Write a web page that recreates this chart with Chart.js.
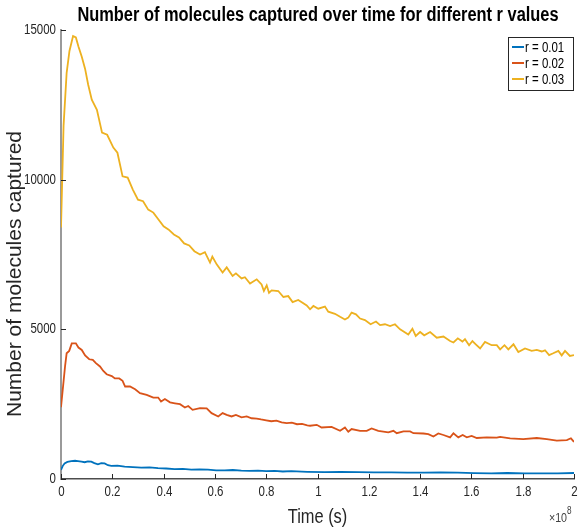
<!DOCTYPE html>
<html>
<head>
<meta charset="utf-8">
<script src="https://cdn.jsdelivr.net/npm/chart.js@4.4.1/dist/chart.umd.min.js"></script>
<style>
  body { margin: 0; background: #fff; }
</style>
</head>
<body>
<canvas id="grafica" width="579" height="531"></canvas>
<script>
// tiempo en unidades de 1e8 s
const timeR03 = [
  0, 0.01, 0.022, 0.033, 0.047, 0.058, 0.068, 0.081, 0.094, 0.106,
  0.12, 0.14, 0.16, 0.18, 0.204, 0.22, 0.24, 0.26, 0.28, 0.30,
  0.32, 0.34, 0.36, 0.38, 0.40, 0.42, 0.44, 0.46, 0.48, 0.50,
  0.52, 0.542, 0.561, 0.581, 0.59, 0.607, 0.63, 0.646, 0.669, 0.682,
  0.704, 0.717, 0.737, 0.763, 0.782, 0.791, 0.802, 0.811, 0.821, 0.847,
  0.867, 0.886, 0.903, 0.925, 0.958, 0.971, 0.984, 1.003, 1.029, 1.042,
  1.068, 1.088, 1.107, 1.12, 1.133, 1.15, 1.166, 1.185, 1.207, 1.228,
  1.244, 1.263, 1.283, 1.302, 1.322, 1.354, 1.37, 1.383, 1.4, 1.416,
  1.439, 1.465, 1.491, 1.517, 1.53, 1.547, 1.565, 1.575, 1.591, 1.604,
  1.617, 1.634, 1.653, 1.679, 1.699, 1.712, 1.729, 1.744, 1.764, 1.783,
  1.809, 1.835, 1.855, 1.874, 1.887, 1.903, 1.919, 1.939, 1.952, 1.965,
  1.984, 2.0
];
const capturedR03 = [
  8400, 11800, 13570, 14300, 14800, 14750, 14450, 14110, 13700, 13170,
  12670, 12330, 11570, 11500, 11070, 10900, 10110, 10070, 9670, 9330,
  9280, 9000, 8900, 8670, 8440, 8330, 8170, 8070, 7870, 7800,
  7610, 7500, 7580, 7230, 7430, 7170, 6900, 7070, 6780, 6870,
  6700, 6740, 6530, 6670, 6500, 6280, 6470, 6220, 6300, 6280,
  6080, 6110, 5910, 5980, 5800, 5670, 5780, 5690, 5760, 5590,
  5520, 5420, 5330, 5390, 5560, 5500, 5360, 5310, 5170, 5260,
  5140, 5170, 5110, 5170, 5000, 4830, 5020, 4780, 4910, 4800,
  4910, 4720, 4760, 4610, 4560, 4700, 4590, 4670, 4470, 4610,
  4500, 4360, 4580, 4470, 4470, 4330, 4470, 4330, 4500, 4240,
  4360, 4280, 4310, 4260, 4300, 4140, 4200, 4280, 4130, 4280,
  4110, 4140
];

const timeR02 = [
  0, 0.016, 0.022, 0.032, 0.042, 0.058, 0.068, 0.081, 0.094, 0.11,
  0.124, 0.136, 0.152, 0.165, 0.178, 0.198, 0.21, 0.227, 0.24, 0.25,
  0.269, 0.289, 0.308, 0.334, 0.36, 0.379, 0.39, 0.405, 0.425, 0.444,
  0.464, 0.483, 0.496, 0.513, 0.542, 0.568, 0.587, 0.613, 0.63, 0.646,
  0.665, 0.682, 0.704, 0.724, 0.743, 0.763, 0.78, 0.80, 0.82, 0.84,
  0.86, 0.88, 0.90, 0.92, 0.94, 0.96, 0.971, 0.997, 1.016, 1.055,
  1.088, 1.107, 1.12, 1.133, 1.166, 1.192, 1.211, 1.237, 1.276, 1.296,
  1.309, 1.335, 1.361, 1.374, 1.413, 1.432, 1.452, 1.471, 1.491, 1.517,
  1.53, 1.549, 1.566, 1.582, 1.601, 1.621, 1.66, 1.699, 1.712, 1.751,
  1.802, 1.855, 1.894, 1.933, 1.972, 1.988, 2.0
];
const capturedR02 = [
  2400, 3780, 4200, 4280, 4530, 4530, 4390, 4310, 4130, 4000,
  3980, 3870, 3760, 3610, 3500, 3440, 3360, 3360, 3280, 3090,
  3090, 3000, 2870, 2810, 2720, 2720, 2590, 2670, 2560, 2530,
  2500, 2390, 2440, 2310, 2370, 2360, 2200, 2090, 2200, 2140,
  2090, 2140, 2060, 2090, 2030, 2020, 1990, 1960, 1930, 1950,
  1890, 1870, 1880, 1830, 1840, 1790, 1780, 1810, 1720, 1740,
  1610, 1720, 1580, 1670, 1610, 1610, 1690, 1610, 1560, 1610,
  1530, 1590, 1590, 1530, 1520, 1500, 1420, 1520, 1470, 1390,
  1530, 1390, 1470, 1390, 1440, 1370, 1390, 1380, 1410, 1360,
  1330, 1370, 1330, 1280, 1300, 1360, 1240
];

const timeR01 = [
  0, 0.007, 0.014, 0.025, 0.04, 0.055, 0.066, 0.08, 0.092, 0.105,
  0.118, 0.13, 0.144, 0.157, 0.17, 0.183, 0.196, 0.22, 0.248, 0.28,
  0.313, 0.345, 0.378, 0.41, 0.443, 0.475, 0.508, 0.54, 0.573, 0.605,
  0.638, 0.67, 0.703, 0.735, 0.768, 0.8, 0.833, 0.865, 0.898, 0.96,
  1.028, 1.09, 1.158, 1.22, 1.287, 1.35, 1.417, 1.48, 1.547, 1.61,
  1.677, 1.74, 1.807, 1.87, 1.937, 2.0
];
const capturedR01 = [
  300, 440, 520, 570, 600, 610, 600, 580, 560, 590,
  580, 530, 490, 530, 520, 460, 440, 450, 410, 400,
  380, 390, 360, 350, 330, 340, 310, 320, 310, 290,
  290, 300, 280, 270, 280, 260, 270, 250, 260, 240,
  230, 240, 230, 220, 220, 215, 210, 220, 210, 195,
  190, 200, 190, 185, 190, 200
];

const seriesLabels = ['r = 0.01', 'r = 0.02', 'r = 0.03'];
const xTicks = [0, 0.2, 0.4, 0.6, 0.8, 1, 1.2, 1.4, 1.6, 1.8, 2];
const yTicks = [0, 5000, 10000, 15000];

const fuente = '"Liberation Sans", Arial, sans-serif';
const ESTRECHO = 0.82; // la figura original está comprimida en horizontal

// texto horizontal comprimido
function texto(ctx, str, x, y, size, align, opts = {}) {
  ctx.save();
  ctx.font = (opts.bold ? 'bold ' : '') + size + 'px ' + fuente;
  ctx.fillStyle = opts.color || '#262626';
  ctx.textAlign = align;
  ctx.textBaseline = opts.baseline || 'middle';
  ctx.translate(x, y);
  ctx.scale(ESTRECHO, 1);
  ctx.fillText(str, 0, 0);
  ctx.restore();
}

function fmt(v) {
  return String(Number(v.toFixed(1)));
}

function puntos(ts, vs) {
  return ts.map((t, i) => ({ x: t, y: vs[i] }));
}

// textos, ticks hacia dentro, leyenda y exponente estilo MATLAB
const estiloMatlab = {
  id: 'estiloMatlab',
  afterDraw(chart) {
    const ctx = chart.ctx;
    const area = chart.chartArea;
    const xs = chart.scales.x;
    const ys = chart.scales.y;
    ctx.save();
    ctx.strokeStyle = '#262626';
    ctx.lineWidth = 1;
    yTicks.forEach(v => {
      const py = Math.round(ys.getPixelForValue(v)) + 0.5;
      ctx.beginPath();
      ctx.moveTo(area.left, py);
      ctx.lineTo(area.left + 5, py);
      ctx.stroke();
      texto(ctx, String(v), area.left - 5, py, 14, 'right');
    });
    xTicks.forEach(v => {
      const px = Math.round(xs.getPixelForValue(v)) + 0.5;
      ctx.beginPath();
      ctx.moveTo(px, area.bottom);
      ctx.lineTo(px, area.bottom - 5);
      ctx.stroke();
      texto(ctx, fmt(v), px, area.bottom + 13, 14, 'center');
    });

    // titulo y etiquetas de ejes
    texto(ctx, 'Number of molecules captured over time for different r values',
      318, 15, 20, 'center', { bold: true, color: '#000' });
    texto(ctx, 'Time (s)', (area.left + area.right) / 2, 517, 20, 'center');
    ctx.save();
    ctx.translate(15, 274);
    ctx.rotate(-Math.PI / 2);
    ctx.font = '21px ' + fuente;
    ctx.fillStyle = '#262626';
    ctx.textAlign = 'center';
    ctx.textBaseline = 'middle';
    ctx.fillText('Number of molecules captured', 0, 0);
    ctx.restore();

    // exponente x10^8
    texto(ctx, '\u00d710', 567, 522, 13, 'right', { baseline: 'alphabetic', color: '#404040' });
    texto(ctx, '8', 567, 514, 10, 'left', { baseline: 'alphabetic', color: '#404040' });

    // leyenda
    const bx = 508, by = 37, bw = 65, bh = 53;
    ctx.fillStyle = '#fff';
    ctx.fillRect(bx, by, bw, bh);
    ctx.strokeStyle = '#262626';
    ctx.lineWidth = 1;
    ctx.strokeRect(bx + 0.5, by + 0.5, bw, bh);
    chart.data.datasets.forEach((ds, i) => {
      const ry = by + 10 + i * 16;
      ctx.strokeStyle = ds.borderColor;
      ctx.lineWidth = 2;
      ctx.beginPath();
      ctx.moveTo(bx + 4, ry);
      ctx.lineTo(bx + 16, ry);
      ctx.stroke();
      texto(ctx, ds.label, bx + 17, ry + 1, 14, 'left', { color: '#000' });
    });
    ctx.restore();
  }
};

const grafica = new Chart(document.getElementById('grafica'), {
  type: 'line',
  data: {
    datasets: [
      { label: seriesLabels[0], data: puntos(timeR01, capturedR01), borderColor: '#0072BD' },
      { label: seriesLabels[1], data: puntos(timeR02, capturedR02), borderColor: '#D95319' },
      { label: seriesLabels[2], data: puntos(timeR03, capturedR03), borderColor: '#EDB120' }
    ]
  },
  options: {
    responsive: false,
    animation: false,
    devicePixelRatio: 1,
    layout: { padding: { left: 0, right: 5, top: 30, bottom: 0 } },
    elements: {
      line: { borderWidth: 1.8, tension: 0 },
      point: { radius: 0 }
    },
    plugins: {
      legend: { display: false },
      tooltip: { enabled: false },
      title: { display: false }
    },
    scales: {
      x: {
        type: 'linear',
        min: 0,
        max: 2,
        afterFit: s => { s.height = 52; },
        afterBuildTicks: s => { s.ticks = xTicks.map(v => ({ value: v })); },
        grid: { display: false, drawTicks: false },
        border: { display: true, color: '#4d4d4d', width: 1.5 },
        ticks: { display: false }
      },
      y: {
        min: 0,
        max: 15000,
        afterFit: s => { s.width = 61; },
        afterBuildTicks: s => { s.ticks = yTicks.map(v => ({ value: v })); },
        grid: { display: false, drawTicks: false },
        border: { display: true, color: '#9a9a9a', width: 2 },
        ticks: { display: false }
      }
    }
  },
  plugins: [estiloMatlab]
});
</script>
</body>
</html>
